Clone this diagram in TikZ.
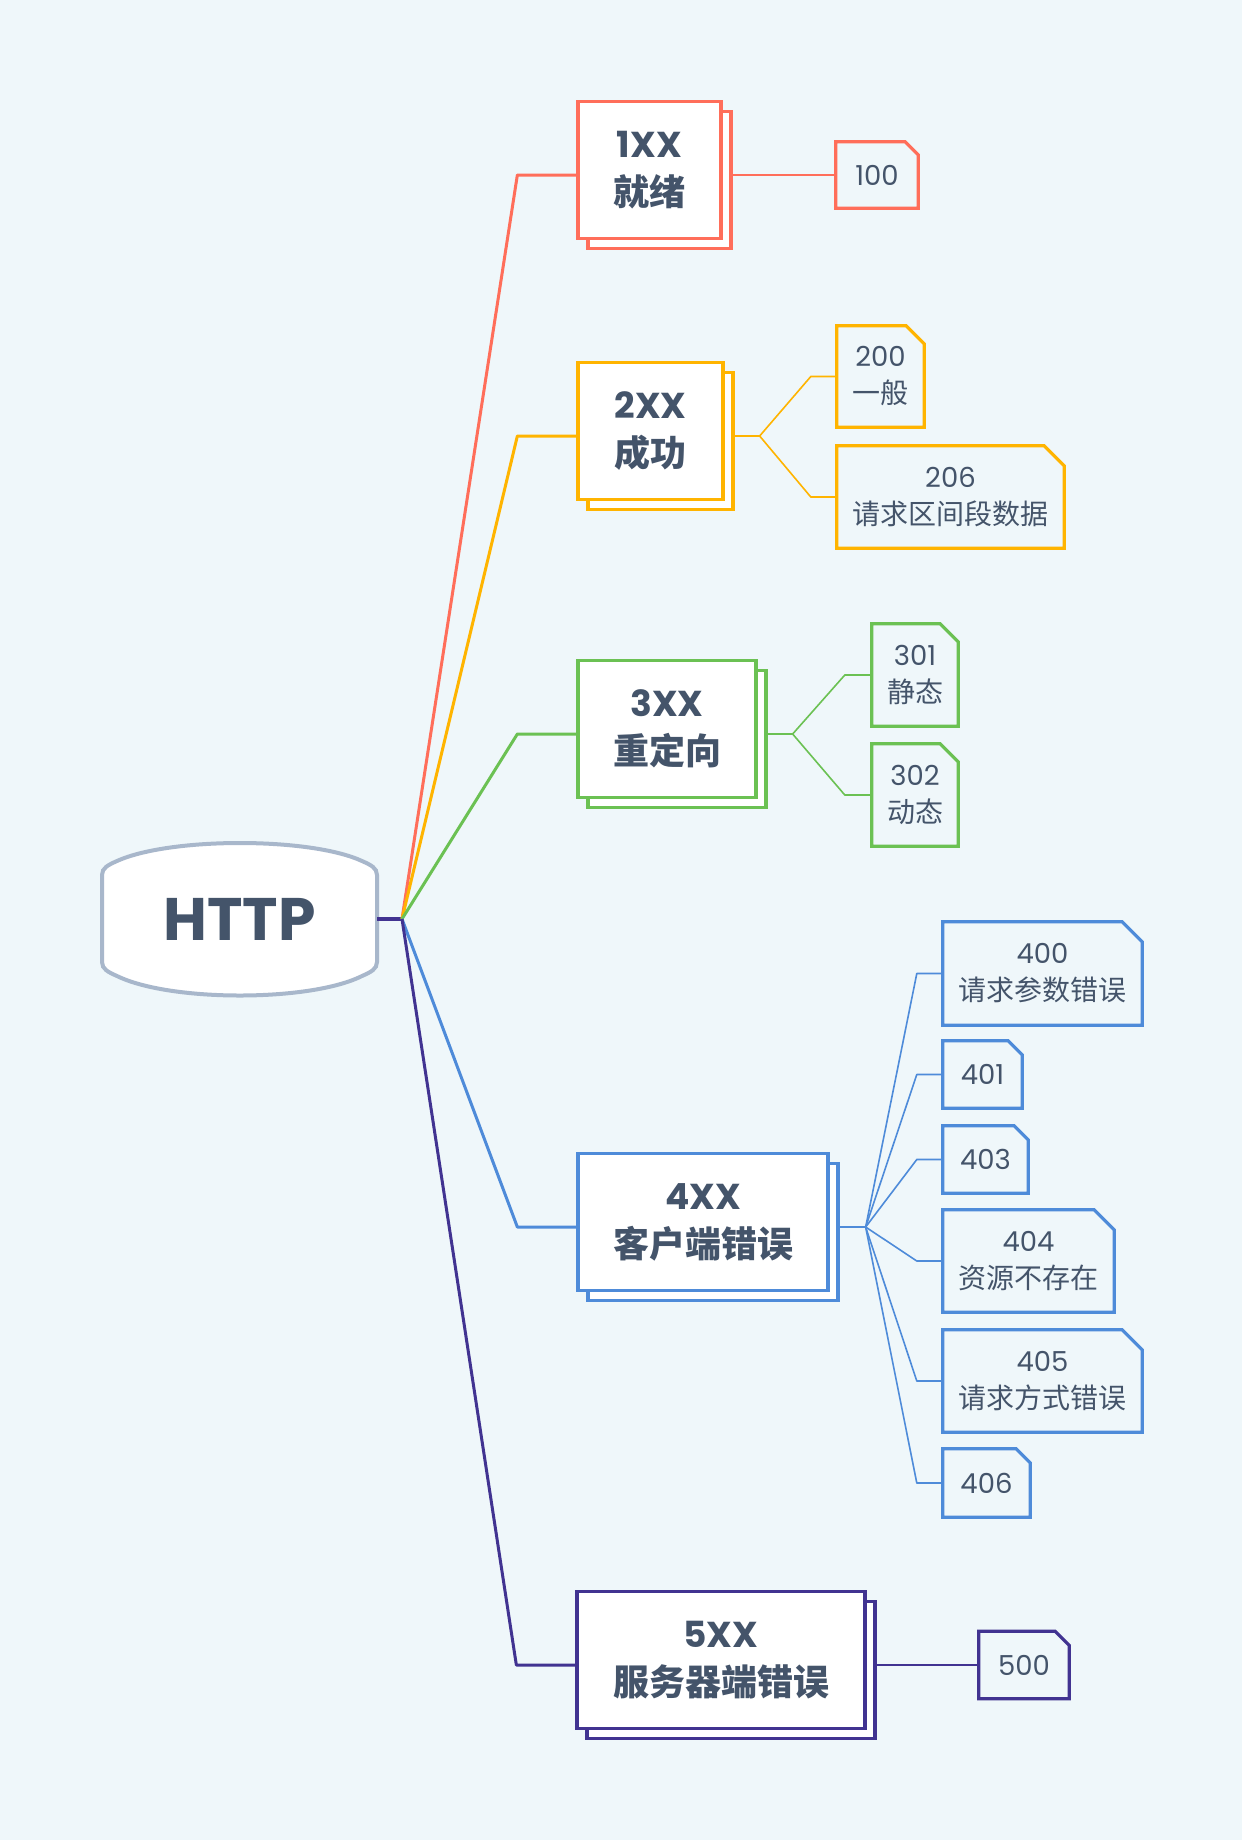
\documentclass[tikz,border=0pt]{standalone}
\usepackage{fontspec}
\setmainfont{Poppins}
\newfontfamily\cjk{Noto Sans CJK SC}
\usetikzlibrary{calc,shadows}
\definecolor{bgc}{HTML}{EFF7FA}
\definecolor{txt}{HTML}{44546A}
\definecolor{hgray}{HTML}{A8B7CB}
\definecolor{cA}{HTML}{FF6E5A}
\definecolor{cB}{HTML}{FFB400}
\definecolor{cC}{HTML}{6BC153}
\definecolor{cD}{HTML}{4E8BD9}
\definecolor{cE}{HTML}{413391}
\newcommand\zh[1]{{\cjk\fontsize{28}{37}\selectfont #1}}
\tikzset{
  mainbox/.style n args={2}{draw=#1, fill=white, line width=3.3pt, minimum width=#2, minimum height=137pt,
    inner sep=0pt, align=center, text=txt, font=\bfseries\fontsize{36}{48}\selectfont,
    copy shadow={shadow xshift=10pt, shadow yshift=-10pt, draw=#1, fill=white, line width=3.3pt}},
  leaf/.style n args={2}{minimum width=#1, minimum height=#2, inner sep=0pt, align=center, text=txt,
    font=\fontsize{27.5}{37}\selectfont},
  mainconn/.style={draw=#1, line width=3pt, line join=round},
  subconn/.style={draw=#1, line width=1.6pt, line join=round},
}
\begin{document}
\begin{tikzpicture}[x=1pt,y=-1pt]
\fill[bgc] (0,0) rectangle (1242,1840);
\useasboundingbox (0,0) rectangle (1242,1840);

% central node
\draw[hgray, fill=white, line width=4pt]
  (102,880) -- (102,875) .. controls (102,868) and (108,865) .. (117,861)
  .. controls (170,837) and (310,837) .. (362,861)
  .. controls (371,865) and (377,868) .. (377,875) -- (377,962)
  .. controls (377,969) and (371,972) .. (362,976)
  .. controls (310,1002) and (170,1002) .. (117,976)
  .. controls (108,972) and (102,969) .. (102,962) -- cycle;
\node[minimum width=275pt, minimum height=120pt, inner sep=0pt, text=txt,
  font=\bfseries\fontsize{60}{62}\selectfont] (http) at (239.5,919) {HTTP};
\coordinate (j) at (402,919);

% main branches
\node[mainbox={cA}{143pt}] (b1) at (649.5,170) {1XX\\{\cjk 就绪}};
\node[mainbox={cB}{145pt}] (b2) at (650.5,431) {2XX\\{\cjk 成功}};
\node[mainbox={cC}{178pt}] (b3) at (667,729) {3XX\\{\cjk 重定向}};
\node[mainbox={cD}{250pt}] (b4) at (703,1222) {4XX\\{\cjk 客户端错误}};
\node[mainbox={cE}{288pt}] (b5) at (721,1660) {5XX\\{\cjk 服务器端错误}};

\draw[mainconn=cE, line width=4pt] (http.east) -- (j);
\draw[mainconn=cA] (j) -- ($(b1.west)+(-59,5)$) -- ($(b1.west)+(0,5)$);
\draw[mainconn=cB] (j) -- ($(b2.west)+(-59,5)$) -- ($(b2.west)+(0,5)$);
\draw[mainconn=cC] (j) -- ($(b3.west)+(-59,5)$) -- ($(b3.west)+(0,5)$);
\draw[mainconn=cD] (j) -- ($(b4.west)+(-59,5)$) -- ($(b4.west)+(0,5)$);
\draw[mainconn=cE] (j) -- ($(b5.west)+(-59,5)$) -- ($(b5.west)+(0,5)$);

% leaves
\node[leaf={82pt}{66pt}] (c100) at (877,175) {100};
\node[leaf={87pt}{101pt}] (c200) at (880.5,376.5) {200\\\zh{一般}};
\node[leaf={227pt}{102pt}] (c206) at (950.5,497) {206\\\zh{请求区间段数据}};
\node[leaf={86pt}{102pt}] (c301) at (915,675) {301\\\zh{静态}};
\node[leaf={86pt}{102pt}] (c302) at (915,795) {302\\\zh{动态}};
\node[leaf={199pt}{103pt}] (c400) at (1042.5,973.5) {400\\\zh{请求参数错误}};
\node[leaf={79pt}{67pt}] (c401) at (982.5,1074.5) {401};
\node[leaf={85pt}{67pt}] (c403) at (985.5,1159.5) {403};
\node[leaf={171pt}{102pt}] (c404) at (1028.5,1261) {404\\\zh{资源不存在}};
\node[leaf={199pt}{102pt}] (c405) at (1042.5,1381) {405\\\zh{请求方式错误}};
\node[leaf={87pt}{68pt}] (c406) at (986.5,1483) {406};
\node[leaf={90pt}{67pt}] (c500) at (1024,1665) {500};

\foreach \n/\c/\k in {c100/cA/13, c200/cB/18, c206/cB/20, c301/cC/18, c302/cC/18,
  c400/cD/20, c401/cD/14, c403/cD/14, c404/cD/20, c405/cD/20, c406/cD/14, c500/cE/14}
  \draw[draw=\c, line width=3.2pt, line join=miter]
    (\n.south west) -- (\n.north west) -- ([xshift=-\k pt]\n.north east)
    -- ([yshift=-\k pt]\n.north east) -- (\n.south east) -- cycle;

% leaf connectors
\draw[subconn=cA] ($(b1.east)+(10,5)$) -- (c100.west);
\foreach \n in {c200,c206}
  \draw[subconn=cB] ($(b2.east)+(10,5)$) -- ++(25,0) -- ($(\n.west)+(-26,0)$) -- (\n.west);
\foreach \n in {c301,c302}
  \draw[subconn=cC] ($(b3.east)+(10,5)$) -- ++(25,0) -- ($(\n.west)+(-27,0)$) -- (\n.west);
\foreach \n in {c400,c401,c403,c404,c405,c406}
  \draw[subconn=cD] ($(b4.east)+(10,5)$) -- ++(26,0) -- ($(\n.west)+(-26,0)$) -- (\n.west);
\draw[subconn=cE] ($(b5.east)+(10,5)$) -- (c500.west);
\end{tikzpicture}
\end{document}
